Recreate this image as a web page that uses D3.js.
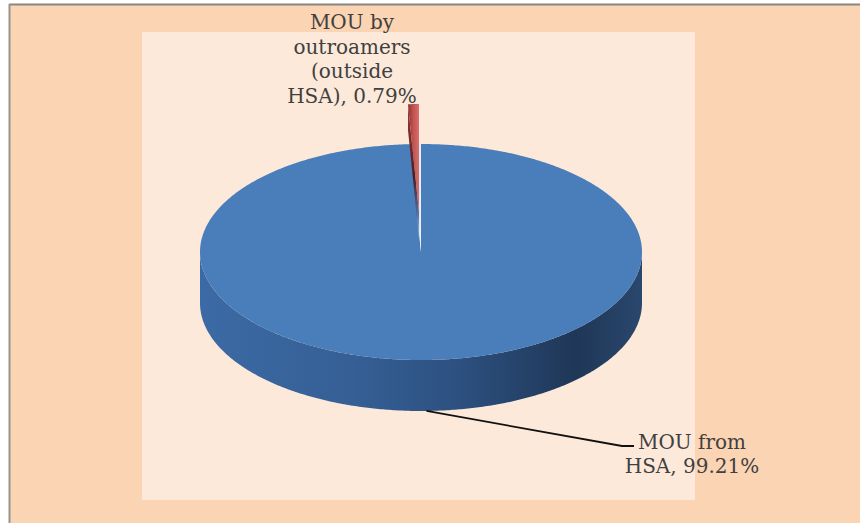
<!DOCTYPE html>
<html>
<head>
<meta charset="utf-8">
<script src="https://cdn.jsdelivr.net/npm/d3@7"></script>
<style>
  html, body { margin: 0; padding: 0; background: #fff; }
  svg { display: block; }
</style>
</head>
<body>
<svg id="chart" width="860" height="523"></svg>
<script>
// chart data
const categories = ["MOU from HSA", "MOU by outroamers (outside HSA)"];
const shares = [99.21, 0.79];
const labelLines = [
  ["MOU from", "HSA, 99.21%"],
  ["MOU by", "outroamers", "(outside", "HSA), 0.79%"]
];

const svg = d3.select("#chart");
const width = +svg.attr("width");
const height = +svg.attr("height");

const defs = svg.append("defs");

// frame
svg.append("rect").attr("x", 9).attr("y", 4).attr("width", width - 9).attr("height", height - 4)
  .attr("fill", "#fbd4b4");
svg.append("line").attr("x1", 9).attr("x2", width).attr("y1", 4.5).attr("y2", 4.5)
  .attr("stroke", "#8a8580").attr("stroke-width", 2);
svg.append("line").attr("x1", 9.5).attr("x2", 9.5).attr("y1", 4).attr("y2", height)
  .attr("stroke", "#9a928c").attr("stroke-width", 2);

// plot area
svg.append("rect").attr("x", 142).attr("y", 32).attr("width", 553).attr("height", 468)
  .attr("fill", "#fde9d9");

// pie geometry (ellipse projection of a tilted disc)
const cx = 421, cy = 252, rx = 221, ry = 108, depth = 51;
const explode = 0.37;

const pie = d3.pie().sort(null).value(d => d)(shares);

function pt(a, r, dz, off) {
  const o = off || [0, 0];
  return [cx + o[0] + rx * r * Math.sin(a), cy + o[1] - ry * r * Math.cos(a) + dz];
}
function arcPoints(a0, a1, dz, off) {
  const n = Math.max(2, Math.ceil(Math.abs(a1 - a0) / 0.01));
  return d3.range(n + 1).map(i => pt(a0 + (a1 - a0) * i / n, 1, dz, off));
}
const line = d3.line();

// gradients
const side = defs.append("linearGradient").attr("id", "sideBlue")
  .attr("gradientUnits", "userSpaceOnUse")
  .attr("x1", cx - rx).attr("x2", cx + rx).attr("y1", 0).attr("y2", 0);
[[0, "#3c6aa4"], [0.35, "#355f95"], [0.6, "#2c4f7e"], [0.85, "#1f3757"], [1, "#2a476d"]]
  .forEach(s => side.append("stop").attr("offset", s[0]).attr("stop-color", s[1]));

const red = defs.append("linearGradient").attr("id", "redGrad")
  .attr("x1", 0).attr("x2", 1).attr("y1", 0).attr("y2", 0);
[[0, "#8e3432"], [0.45, "#c0504d"], [1, "#d66f6b"]]
  .forEach(s => red.append("stop").attr("offset", s[0]).attr("stop-color", s[1]));

const wall = defs.append("linearGradient").attr("id", "wallGrad")
  .attr("x1", 0).attr("x2", 0).attr("y1", 0).attr("y2", 1);
[[0, "#9c3a37", 1], [0.55, "#4a1e22", 1], [0.8, "#3b4f80", 0.8], [1, "#a9c6ec", 0.9]]
  .forEach(s => wall.append("stop").attr("offset", s[0]).attr("stop-color", s[1]).attr("stop-opacity", s[2]));

const gap = defs.append("linearGradient").attr("id", "gapGrad")
  .attr("x1", 0).attr("x2", 1).attr("y1", 0).attr("y2", 0);
[[0, "#4a7ebb"], [0.55, "#9dbde4"], [1, "#f1f6fc"]]
  .forEach(s => gap.append("stop").attr("offset", s[0]).attr("stop-color", s[1]));

const g = svg.append("g");

// main slice: front side wall
const big = pie[0];
const s0 = Math.max(big.startAngle, Math.PI / 2), s1 = Math.min(big.endAngle, 3 * Math.PI / 2);
const topEdge = arcPoints(s0, s1, 0);
const botEdge = arcPoints(s1, s0, depth);
g.append("path").attr("d", line(topEdge.concat(botEdge)) + "Z").attr("fill", "url(#sideBlue)");

// main slice: top face
g.append("path")
  .attr("d", line([[cx, cy]].concat(arcPoints(big.startAngle, big.endAngle, 0))) + "Z")
  .attr("fill", "#4a7ebb");

// inner walls seen through the gap left by the exploded slice
const small = pie[1];
g.append("path")
  .attr("d", line([[cx, cy]].concat(arcPoints(small.startAngle, small.endAngle, 0))) + "Z")
  .attr("fill", "url(#gapGrad)");

// exploded small slice
const mid = (small.startAngle + small.endAngle) / 2;
const off = [rx * explode * Math.sin(mid), -ry * explode * Math.cos(mid)];
const tip = [cx + off[0], cy + off[1]];
const rimL = pt(small.startAngle, 1, 0, off);
const wallDepth = 26;
g.append("path")
  .attr("d", line([rimL, tip, [tip[0], tip[1] + wallDepth], [rimL[0], rimL[1] + wallDepth]]) + "Z")
  .attr("fill", "url(#wallGrad)");
g.append("path")
  .attr("d", line([tip].concat(arcPoints(small.startAngle, small.endAngle, 0, off))) + "Z")
  .attr("fill", "url(#redGrad)");

// labels
const font = "'DejaVu Serif', serif";
const textColor = "#404040";

// big slice label with leader
const bigMid = (big.startAngle + big.endAngle) / 2;
const lp = pt(bigMid, 1, depth);
g.append("polyline")
  .attr("points", [lp, [622, 446], [634, 446]].map(p => p.join(",")).join(" "))
  .attr("fill", "none").attr("stroke", "#111").attr("stroke-width", 1.8);

const t1 = svg.append("text").attr("font-family", font).attr("font-size", 20)
  .attr("fill", textColor).attr("text-anchor", "middle");
labelLines[0].forEach((s, i) => {
  t1.append("tspan").attr("x", 692).attr("y", 449 + i * 23.5).text(s);
});

const t2 = svg.append("text").attr("font-family", font).attr("font-size", 20)
  .attr("fill", textColor).attr("text-anchor", "middle");
labelLines[1].forEach((s, i) => {
  t2.append("tspan").attr("x", 352).attr("y", 29 + i * 24.7).text(s);
});
</script>
</body>
</html>
